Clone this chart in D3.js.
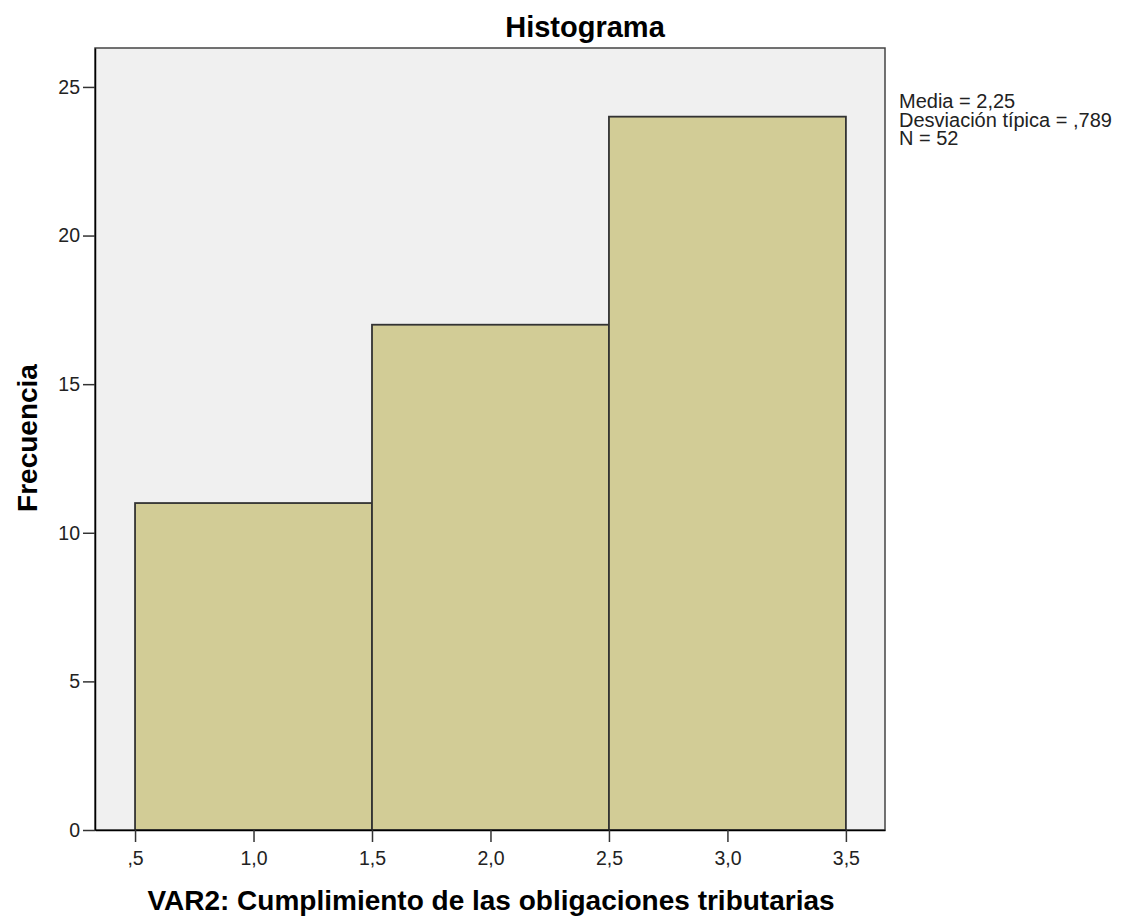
<!DOCTYPE html>
<html>
<head>
<meta charset="utf-8">
<script src="https://cdn.jsdelivr.net/npm/d3@7"></script>
<style>
body { margin: 0; background: #fff; }
text { font-family: Arial, "Liberation Sans", sans-serif; }
</style>
</head>
<body>
<div id="chart"></div>
<script>
var bin_starts = [0.5, 1.5, 2.5];
var bin_ends = [1.5, 2.5, 3.5];
var counts = [11, 17, 24];
var x_ticks = [0.5, 1.0, 1.5, 2.0, 2.5, 3.0, 3.5];
var y_ticks = [0, 5, 10, 15, 20, 25];
var stats_lines = ['Media = 2,25', 'Desviación típica = ,789', 'N = 52'];

var chart_width = 1128;
var chart_height = 922;
var plot_left = 95, plot_right = 885, plot_top = 48, plot_bottom = 830;

var svg = d3.select('#chart')
    .append('svg')
    .attr('width', chart_width)
    .attr('height', chart_height);

var x_scale = d3.scaleLinear()
    .domain([0.331, 3.665])
    .range([plot_left, plot_right]);

var y_scale = d3.scaleLinear()
    .domain([0, 26.31])
    .range([plot_bottom, plot_top]);

// spss style: ",5" and "1,0"
var fmt = function (d) {
    var s = d3.format('.1f')(d).replace('.', ',');
    if (s.indexOf('0,') === 0) s = s.substring(1);
    return s;
};

// plot background
svg.append('rect')
    .attr('x', plot_left)
    .attr('y', plot_top)
    .attr('width', plot_right - plot_left)
    .attr('height', plot_bottom - plot_top)
    .attr('fill', '#f0f0f0')
    .attr('stroke', '#444')
    .attr('stroke-width', 1.5);

// bars
svg.append('g')
    .selectAll('rect')
    .data(counts)
    .enter()
    .append('rect')
    .attr('x', function (d, i) { return x_scale(bin_starts[i]); })
    .attr('y', function (d) { return y_scale(d); })
    .attr('width', function (d, i) { return x_scale(bin_ends[i]) - x_scale(bin_starts[i]); })
    .attr('height', function (d) { return plot_bottom - y_scale(d); })
    .attr('fill', '#d2cc96')
    .attr('stroke', '#333')
    .attr('stroke-width', 1.8);

// axes
var x_axis = d3.axisBottom(x_scale)
    .tickValues(x_ticks)
    .tickFormat(fmt)
    .tickSize(12)
    .tickSizeOuter(0);
var gx = svg.append('g')
    .attr('class', 'x-axis')
    .attr('transform', 'translate(0,' + plot_bottom + ')')
    .call(x_axis);
gx.select('.domain').attr('stroke', '#000').attr('stroke-width', 1.5);
gx.selectAll('.tick line').attr('stroke', '#333').attr('stroke-width', 1.5);
gx.selectAll('.tick text')
    .attr('y', 35)
    .attr('dy', null)
    .attr('fill', '#222')
    .style('font-size', '19.5px')
    .style('font-family', 'Arial, "Liberation Sans", sans-serif');

var y_axis = d3.axisLeft(y_scale)
    .tickValues(y_ticks)
    .tickSize(12)
    .tickSizeOuter(0);
var gy = svg.append('g')
    .attr('class', 'y-axis')
    .attr('transform', 'translate(' + plot_left + ',0)')
    .call(y_axis);
gy.select('.domain').attr('stroke', '#000').attr('stroke-width', 1.5);
gy.selectAll('.tick line').attr('stroke', '#333').attr('stroke-width', 1.5);
gy.selectAll('.tick text')
    .attr('x', -15)
    .attr('fill', '#222')
    .style('font-size', '19.5px')
    .style('font-family', 'Arial, "Liberation Sans", sans-serif');

// title
svg.append('text')
    .attr('x', 585)
    .attr('y', 37)
    .attr('text-anchor', 'middle')
    .style('font-weight', 'bold')
    .style('font-size', '29px')
    .text('Histograma');

// x label
svg.append('text')
    .attr('x', 491)
    .attr('y', 910)
    .attr('text-anchor', 'middle')
    .style('font-weight', 'bold')
    .style('font-size', '28px')
    .text('VAR2: Cumplimiento de las obligaciones tributarias');

// y label
svg.append('text')
    .attr('transform', 'translate(37,' + 438 + ') rotate(-90)')
    .attr('text-anchor', 'middle')
    .style('font-weight', 'bold')
    .style('font-size', '28px')
    .text('Frecuencia');

// stats box
svg.append('g')
    .selectAll('text')
    .data(stats_lines)
    .enter()
    .append('text')
    .attr('x', 899)
    .attr('y', function (d, i) { return 108 + i * 18.5; })
    .style('font-size', '20px')
    .attr('fill', '#222')
    .text(function (d) { return d; });
</script>
</body>
</html>
